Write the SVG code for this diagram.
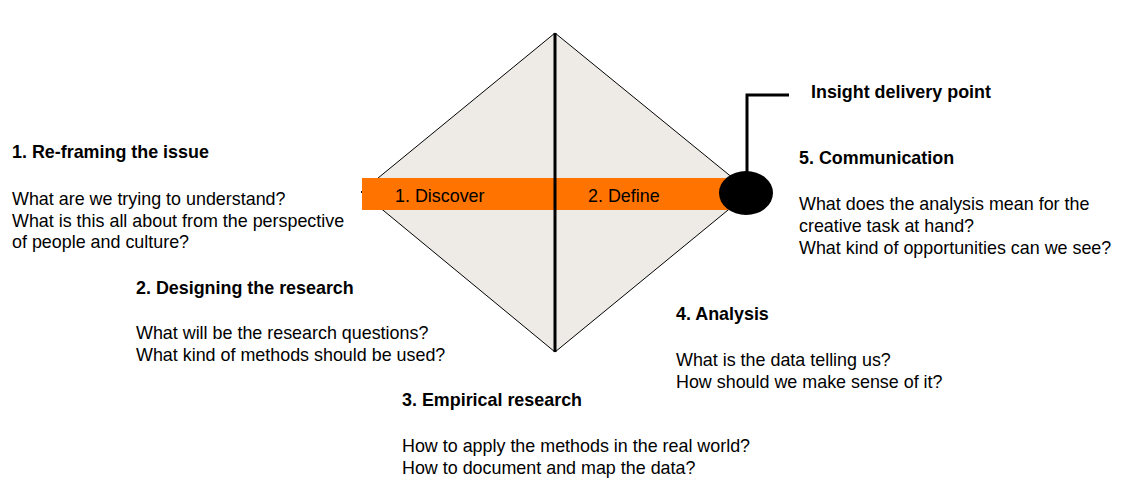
<svg xmlns="http://www.w3.org/2000/svg" width="1135" height="489" viewBox="0 0 1135 489">
<style>
text{font-family:"Liberation Sans",Arial,sans-serif;font-size:17.9px;fill:#000}
.h{font-weight:bold}
</style>
<rect width="1135" height="489" fill="#fff"/>
<g id="diamond">
<polygon points="555,33 750,192 555,352 361,192" fill="#EEEBE6" stroke="#000" stroke-width="1"/>
</g>
<g id="bar">
<rect x="362" y="178" width="370" height="32" fill="#FF7300"/>
<text x="395" y="202">1. Discover</text>
<text x="588" y="202">2. Define</text>
</g>
<g id="connectors">
<line x1="555" y1="33" x2="555" y2="352" stroke="#000" stroke-width="3"/>
<polyline points="747,192 747,95 789,95" fill="none" stroke="#000" stroke-width="3"/>
</g>
<g id="point">
<ellipse cx="746" cy="193" rx="27" ry="22" fill="#000"/>
<text class="h" x="811" y="98">Insight delivery point</text>
</g>
<g id="n1">
<text class="h" x="12" y="158">1. Re-framing the issue</text>
<text x="12" y="205">What are we trying to understand?</text>
<text x="12" y="227">What is this all about from the perspective</text>
<text x="12" y="248">of people and culture?</text>
</g>
<g id="n2">
<text class="h" x="136" y="294">2. Designing the research</text>
<text x="136" y="339">What will be the research questions?</text>
<text x="136" y="361">What kind of methods should be used?</text>
</g>
<g id="n3">
<text class="h" x="402" y="406">3. Empirical research</text>
<text x="402" y="452">How to apply the methods in the real world?</text>
<text x="402" y="474">How to document and map the data?</text>
</g>
<g id="n4">
<text class="h" x="676" y="320">4. Analysis</text>
<text x="676" y="366">What is the data telling us?</text>
<text x="676" y="388">How should we make sense of it?</text>
</g>
<g id="n5">
<text class="h" x="799" y="164">5. Communication</text>
<text x="799" y="210">What does the analysis mean for the</text>
<text x="799" y="232">creative task at hand?</text>
<text x="799" y="254">What kind of opportunities can we see?</text>
</g>
</svg>
